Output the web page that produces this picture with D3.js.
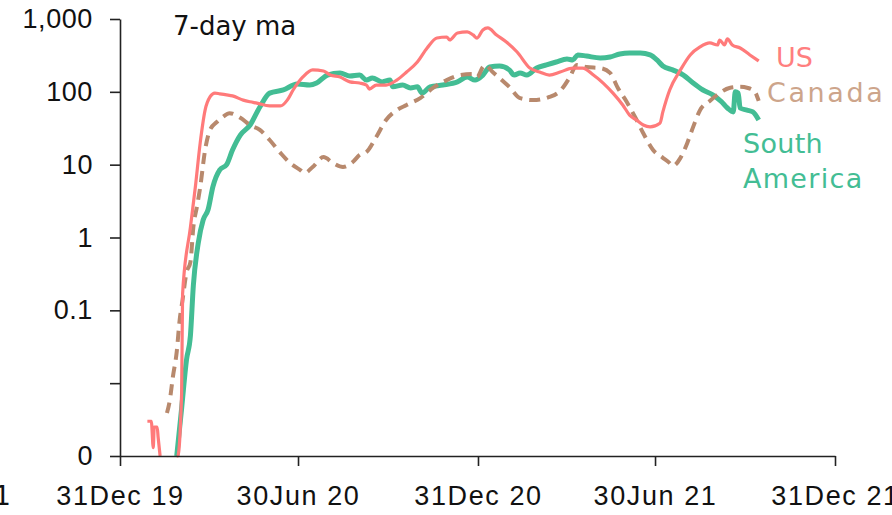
<!DOCTYPE html>
<html><head><meta charset="utf-8">
<script src="https://cdn.jsdelivr.net/npm/d3@7"></script>
<style>
html,body{margin:0;padding:0;background:#fff;}
svg{display:block;font-family:"Century Gothic","DejaVu Sans",sans-serif;}
</style></head>
<body><svg id="chart" width="892" height="515"></svg>
<script>
// ---- data (7-day moving average, log scale) ----
const usDates = ["2020-01-28","2020-02-01","2020-02-03","2020-02-04","2020-02-07","2020-02-08","2020-02-10","2020-02-18",
"2020-02-27","2020-02-28","2020-03-03","2020-03-04","2020-03-12","2020-03-17","2020-03-22","2020-03-27",
"2020-04-01","2020-04-06","2020-04-11","2020-04-18","2020-04-24","2020-05-05","2020-05-12","2020-05-19",
"2020-06-01","2020-06-12","2020-06-19","2020-06-25","2020-07-05","2020-07-15","2020-07-26","2020-08-02",
"2020-08-12","2020-08-22","2020-09-01","2020-09-08","2020-09-11","2020-09-18","2020-09-28","2020-10-09",
"2020-10-19","2020-10-30","2020-11-09","2020-11-19","2020-11-29","2020-12-02","2020-12-10","2020-12-20",
"2020-12-26","2020-12-30","2021-01-05","2021-01-10","2021-01-19","2021-01-29","2021-02-09","2021-02-22",
"2021-03-04","2021-03-14","2021-03-25","2021-04-07","2021-04-17","2021-04-28","2021-05-08","2021-05-18",
"2021-05-28","2021-06-04","2021-06-11","2021-06-18","2021-06-25","2021-07-05","2021-07-08","2021-07-15",
"2021-07-26","2021-08-05","2021-08-15","2021-08-25","2021-09-02","2021-09-04","2021-09-09","2021-09-12",
"2021-09-17","2021-09-25","2021-10-05","2021-10-14"];
const usValues = [0.0030,0.0030,0.0013,0.0025,0.0025,0.0018,0.001,null,
0.001,0.001,0.0073,0.17,1.39,4.9,19.9,56,
85,96,94,91,88,77,73,70,
64,64,77,106,160,200,193,170,
160,137,132,124,109,124,124,145,
187,257,400,548,566,515,643,664,
604,548,706,753,604,483,352,212,
187,170,187,212,212,170,132,96,
66,48,41,35,33,37,53,106,
200,321,413,469,440,515,440,532,
440,400,321,265];

const caDates = ["2020-02-17","2020-02-20","2020-02-23","2020-02-27","2020-03-01","2020-03-04","2020-03-08","2020-03-12",
"2020-03-15","2020-03-19","2020-03-22","2020-03-27","2020-04-01","2020-04-08","2020-04-14","2020-04-21",
"2020-05-02","2020-05-12","2020-05-22","2020-06-01","2020-06-12","2020-06-22","2020-07-02","2020-07-07",
"2020-07-15","2020-07-26","2020-08-05","2020-08-15","2020-08-25","2020-09-01","2020-09-08","2020-09-18",
"2020-09-28","2020-10-09","2020-10-19","2020-11-02","2020-11-15","2020-11-29","2020-12-13","2020-12-26",
"2020-12-30","2021-01-05","2021-01-07","2021-01-15","2021-01-22","2021-02-01","2021-02-12","2021-02-25",
"2021-03-14","2021-03-25","2021-04-04","2021-04-11","2021-04-21","2021-05-05","2021-05-15","2021-05-23",
"2021-06-01","2021-06-10","2021-06-18","2021-06-28","2021-07-08","2021-07-15","2021-07-18","2021-07-26",
"2021-08-02","2021-08-08","2021-08-15","2021-08-25","2021-09-04","2021-09-14","2021-09-25","2021-10-03",
"2021-10-10","2021-10-14"];
const caValues = [0.0039,0.0059,0.012,0.027,0.074,0.14,0.33,0.46,
1.39,2.8,4.9,15.9,30,38.5,45,51,
44,35,30,21.8,14.5,10.5,8.5,7.7,
9.3,12.7,10.5,9.3,10.9,13.6,14.9,24,
41,56,66,82,113,145,170,176,
160,219,234,187,155,117,82,77,
85,103,160,234,219,212,182,113,
73,44,27,15.9,12.4,10.5,9.6,12.4,
19.9,33,56,75,96,113,117,113,
100,75];

const saDates = ["2020-02-27","2020-03-03","2020-03-08","2020-03-12","2020-03-15","2020-03-20","2020-03-25","2020-03-30",
"2020-04-04","2020-04-11","2020-04-18","2020-04-24","2020-05-02","2020-05-12","2020-05-22","2020-06-01",
"2020-06-15","2020-06-29","2020-07-12","2020-07-19","2020-07-30","2020-08-12","2020-08-22","2020-09-01",
"2020-09-08","2020-09-14","2020-09-24","2020-10-02","2020-10-05","2020-10-15","2020-10-23","2020-10-30",
"2020-11-04","2020-11-12","2020-11-25","2020-12-10","2020-12-20","2020-12-28","2021-01-05","2021-01-12",
"2021-01-22","2021-02-01","2021-02-06","2021-02-12","2021-02-19","2021-03-01","2021-03-11","2021-03-21",
"2021-04-01","2021-04-07","2021-04-12","2021-04-21","2021-05-05","2021-05-15","2021-05-25","2021-06-04",
"2021-06-15","2021-06-25","2021-07-02","2021-07-08","2021-07-18","2021-07-29","2021-08-08","2021-08-18",
"2021-08-28","2021-09-06","2021-09-12","2021-09-18","2021-09-20","2021-09-23","2021-09-25","2021-10-02",
"2021-10-08","2021-10-14"];
const saValues = [0.001,0.0045,0.021,0.045,0.22,0.84,1.74,2.4,
5,8.5,10,15.9,25.5,35,62,96,
106,128,124,132,170,182,165,170,
145,155,137,145,117,124,113,117,
96,117,124,137,160,145,170,219,
226,200,170,182,170,212,234,257,
282,274,321,310,292,301,331,341,
341,321,274,226,200,170,132,106,
91,73,60,53,100,96,60,56,
53,41];

const yTickValues = [0.001,0.01,0.1,1,10,100,1000];
const yTickLabels = ["0","","0.1","1","10","100","1,000"];
const xTickDates = ["2019-12-31","2020-06-30","2020-12-31","2021-06-30","2021-12-31"];
const xTickLabels = ["31Dec 19","30Jun 20","31Dec 20","30Jun 21","31Dec 21"];
const seriesNames = ["US","Canada","South America"];
const subtitle = "7-day ma";

// ---- chart ----
const parse = d3.utcParse("%Y-%m-%d");
const svg = d3.select("#chart");
const x = d3.scaleUtc().domain([parse("2019-12-31"), parse("2021-12-31")]).range([120, 835]);
const y = d3.scaleLog().domain([0.001, 1000]).range([456, 19]);

function zip(ds, vs){ return ds.map((d,i)=>({date:parse(d), v:vs[i]})); }
const series = [
  {name:seriesNames[2], data:zip(saDates,saValues), color:"#43BD94", width:5, dash:null},
  {name:seriesNames[1], data:zip(caDates,caValues), color:"#B8896D", width:4, dash:"11,7"},
  {name:seriesNames[0], data:zip(usDates,usValues), color:"#FF7A7A", width:3.2, dash:null}
];

const line = d3.line()
  .defined(d => d.v != null)
  .x(d => x(d.date))
  .y(d => y(Math.max(d.v, 0.001)))
  .curve(d3.curveMonotoneX);

series.forEach(s => {
  svg.append("path")
    .datum(s.data)
    .attr("fill","none")
    .attr("stroke", s.color)
    .attr("stroke-width", s.width)
    .attr("stroke-linejoin","round")
    .attr("stroke-dasharray", s.dash)
    .attr("d", line);
});

// axes
const yAxis = d3.axisLeft(y).tickValues(yTickValues)
  .tickFormat((d,i)=>yTickLabels[i]).tickSize(10).tickSizeOuter(0).tickPadding(17);
const gy = svg.append("g").attr("transform","translate(120,0)").call(yAxis);
const xAxis = d3.axisBottom(x).tickValues(xTickDates.map(parse))
  .tickFormat((d,i)=>xTickLabels[i]).tickSize(10).tickSizeOuter(0).tickPadding(20);
const gx = svg.append("g").attr("transform","translate(0,456)").call(xAxis);
[gy,gx].forEach(g=>{
  g.select(".domain").attr("stroke","#222").attr("stroke-width",1.6);
  g.selectAll(".tick line").attr("stroke","#222").attr("stroke-width",1.6);
  g.selectAll("text").attr("fill","#111").style("font-family","inherit");
});
gy.selectAll("text").style("font-size","27px").style("letter-spacing","0.6px");
gx.selectAll("text").style("font-size","27px").style("letter-spacing","1.6px");

// clipped label fragment at far left
svg.append("text").attr("x",11).attr("y",505).attr("text-anchor","end")
  .attr("fill","#111").style("font-size","27px").text("1");

svg.append("text").attr("x",173).attr("y",35).attr("fill","#111")
  .style("font-size","26px").text(subtitle);

// series labels
const labels = [
  {t:seriesNames[0], x:776, y:67, c:"#FF7F7F", ls:0},
  {t:seriesNames[1], x:767, y:102, c:"#CDA58B", ls:2.6},
  {t:"South", x:743, y:153, c:"#43BD94", ls:0.3},
  {t:"America", x:743, y:188, c:"#43BD94", ls:1.3}
];
labels.forEach(l=>{
  svg.append("text").attr("x",l.x).attr("y",l.y).attr("fill",l.c)
    .style("font-size","27px").style("letter-spacing",l.ls+"px").text(l.t);
});
</script>
</body></html>
